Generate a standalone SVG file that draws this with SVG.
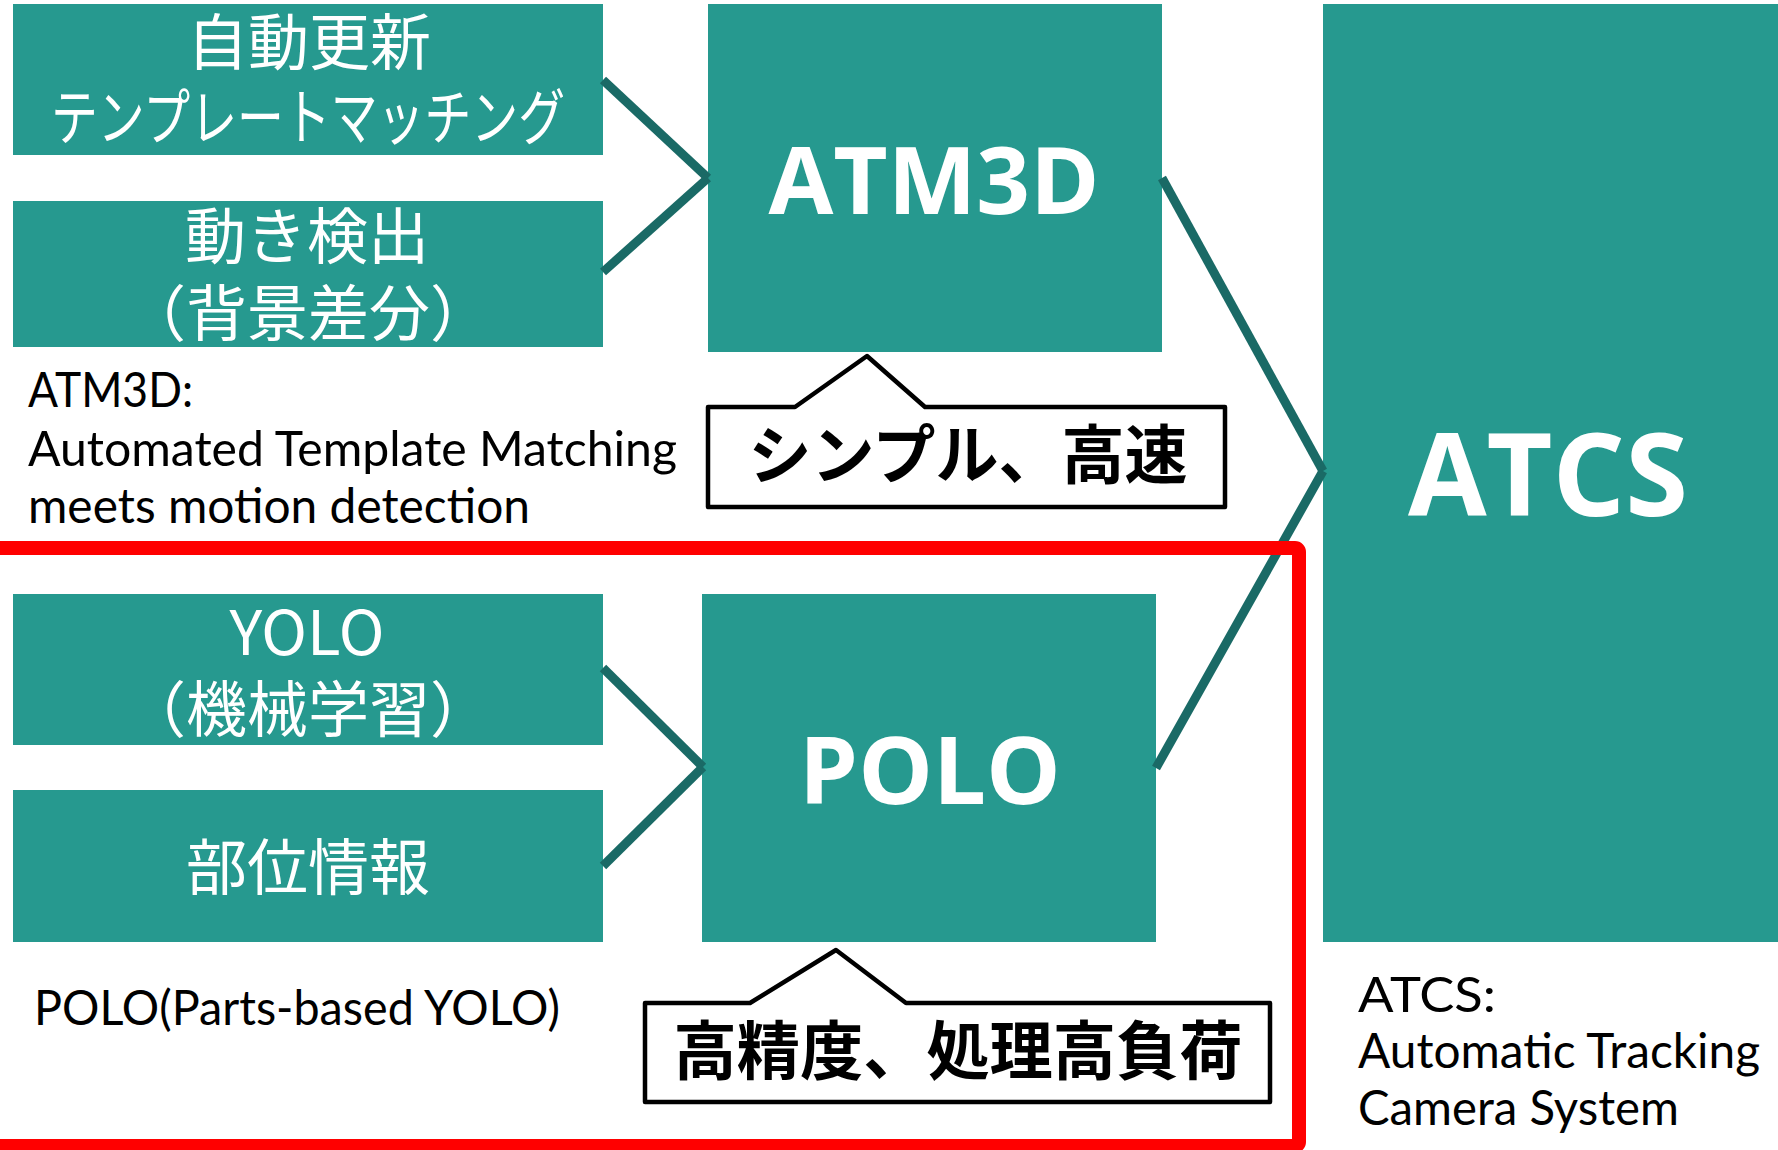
<svg xmlns="http://www.w3.org/2000/svg" width="1778" height="1150" viewBox="0 0 1778 1150">
<style>
.box{fill:#26998F}
.jp{font-family:"Noto Sans CJK JP","Noto Sans",sans-serif;font-size:61px;fill:#ffffff;text-anchor:middle}
.big{font-family:"Open Sans","Noto Sans",sans-serif;font-weight:bold;fill:#ffffff;text-anchor:middle}
.lbl{font-family:Lato,"Open Sans",sans-serif;font-size:48px;fill:#000000}
.con{stroke:#1A6A66;stroke-width:9;fill:none}
.call{fill:#ffffff;stroke:#000000;stroke-width:4.5;stroke-linejoin:round}
.ct{font-family:"Noto Sans CJK JP","Noto Sans",sans-serif;font-weight:bold;font-size:64px;fill:#000000;text-anchor:middle}
</style>
<rect width="1778" height="1150" fill="#ffffff"/>
<g id="node-auto-template">
<rect class="box" x="13" y="4" width="590" height="151"/>
<text class="jp" x="309" y="65">自動更新</text>
<text class="jp" x="308" y="140" textLength="514" lengthAdjust="spacingAndGlyphs">テンプレートマッチング</text>
</g>
<g id="node-motion">
<rect class="box" x="13" y="201" width="590" height="146"/>
<text class="jp" x="307" y="259">動き検出</text>
<text class="jp" x="308" y="336">（背景差分）</text>
</g>
<g id="node-atm3d">
<rect class="box" x="708" y="4" width="454" height="348"/>
<text class="big" x="934" y="214" font-size="94">ATM3D</text>
</g>
<g id="node-atcs">
<rect class="box" x="1323" y="4" width="455" height="938"/>
<text class="big" x="1548" y="516" font-size="114">ATCS</text>
</g>
<g id="node-yolo">
<rect class="box" x="13" y="594" width="590" height="151"/>
<text class="jp" x="307" y="655" font-family="Lato,sans-serif" textLength="155" lengthAdjust="spacingAndGlyphs">YOLO</text>
<text class="jp" x="308" y="732">（機械学習）</text>
</g>
<g id="node-parts">
<rect class="box" x="13" y="790" width="590" height="152"/>
<text class="jp" x="308" y="890">部位情報</text>
</g>
<g id="node-polo">
<rect class="box" x="702" y="594" width="454" height="348"/>
<text class="big" x="930" y="804" font-size="94">POLO</text>
</g>
<g id="connectors">
<line class="con" x1="603" y1="80" x2="708" y2="178"/>
<line class="con" x1="708" y1="178" x2="603" y2="272"/>
<line class="con" x1="603" y1="668" x2="703" y2="767"/>
<line class="con" x1="703" y1="767" x2="603" y2="866"/>
<line class="con" x1="1162" y1="178" x2="1323" y2="471"/>
<line class="con" x1="1323" y1="471" x2="1156" y2="768"/>
</g>
<g id="label-atm3d">
<text class="lbl" x="28" y="407" textLength="165" lengthAdjust="spacingAndGlyphs">ATM3D:</text>
<text class="lbl" x="28" y="466" textLength="649" lengthAdjust="spacingAndGlyphs">Automated Template Matching</text>
<text class="lbl" x="28" y="523" textLength="502" lengthAdjust="spacingAndGlyphs">meets motion detection</text>
</g>
<g id="label-polo">
<text class="lbl" x="34" y="1025" textLength="526" lengthAdjust="spacingAndGlyphs">POLO(Parts-based YOLO)</text>
</g>
<g id="label-atcs">
<text class="lbl" x="1358" y="1012" textLength="138" lengthAdjust="spacingAndGlyphs">ATCS:</text>
<text class="lbl" x="1358" y="1068" textLength="402" lengthAdjust="spacingAndGlyphs">Automatic Tracking</text>
<text class="lbl" x="1358" y="1125" textLength="321" lengthAdjust="spacingAndGlyphs">Camera System</text>
</g>
<g id="callout-simple">
<path class="call" d="M708 407 L795 407 L867 356 L925 407 L1225 407 L1225 507 L708 507 Z"/>
<text class="ct" x="968" y="478" textLength="439" lengthAdjust="spacingAndGlyphs">シンプル、高速</text>
</g>
<g id="callout-accurate">
<path class="call" d="M645 1003 L750 1003 L836 950 L906 1003 L1270 1003 L1270 1102 L645 1102 Z"/>
<text class="ct" x="958" y="1074" textLength="569" lengthAdjust="spacingAndGlyphs">高精度、処理高負荷</text>
</g>
<g id="group-polo">
<rect x="-20" y="548" width="1319" height="598" rx="4" fill="none" stroke="#FF0000" stroke-width="14"/>
</g>
</svg>
